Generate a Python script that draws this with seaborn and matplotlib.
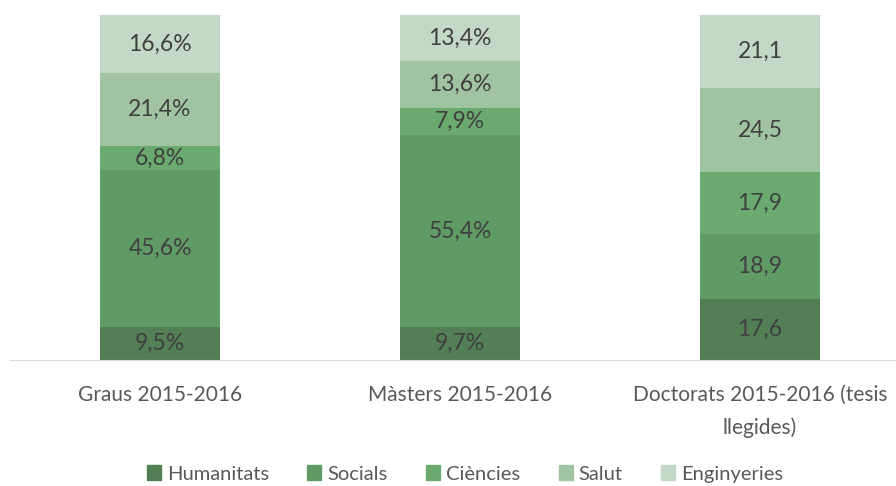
import numpy as np
import matplotlib.pyplot as plt
import seaborn as sns
from matplotlib.patches import Patch

# Dades
categories = ['Graus 2015-2016', 'Màsters 2015-2016', 'Doctorats 2015-2016 (tesis\nllegides)']
series = ['Humanitats', 'Socials', 'Ciències', 'Salut', 'Enginyeries']
humanitats = [9.5, 9.7, 17.6]
socials = [45.6, 55.4, 18.9]
ciencies = [6.8, 7.9, 17.9]
salut = [21.4, 13.6, 24.5]
enginyeries = [16.6, 13.4, 21.1]
label_fmt = ['{:.1f}%', '{:.1f}%', '{:.1f}']

colors = ['#537f55', '#609a65', '#6aaa6e', '#a0c4a2', '#c3d9c5']

sns.set_style('white')
plt.rcParams['font.family'] = ['Lato', 'DejaVu Sans']

values = np.array([humanitats, socials, ciencies, salut, enginyeries])
cum = values.cumsum(axis=0)

fig = plt.figure(figsize=(8.96, 4.86), dpi=100)
ax = fig.add_axes([10 / 896, 126 / 486, 900 / 896, 345 / 486])

# barres apilades: dibuixem les sumes acumulades de dalt a baix
for i in range(len(series) - 1, -1, -1):
    sns.barplot(x=categories, y=cum[i], color=colors[i], width=0.4,
                ax=ax, saturation=1, linewidth=0)

for j in range(len(categories)):
    for i in range(len(series)):
        mid = cum[i, j] - values[i, j] / 2
        txt = label_fmt[j].format(values[i, j]).replace('.', ',')
        ax.text(j, mid, txt, ha='center', va='center', fontsize=16.5, color='#404040')

ax.set_ylim(0, 100)
ax.set_xlim(-0.5, 2.5)
ax.set_yticks([])
for s in ['top', 'right', 'left']:
    ax.spines[s].set_visible(False)
ax.spines['bottom'].set_color('#d9d9d9')
ax.tick_params(axis='x', length=0, labelsize=15, labelcolor='#595959', pad=18)
for t in ax.get_xticklabels():
    t.set_linespacing(1.75)

handles = [Patch(color=c, label=s) for c, s in zip(colors, series)]
fig.legend(handles=handles, loc='center', bbox_to_anchor=(465 / 896, 12 / 486), ncol=5,
           frameon=False, fontsize=14.5, labelcolor='#595959', handlelength=0.7,
           handleheight=0.7, handletextpad=0.3, columnspacing=1.9)

fig.savefig('out.png', dpi=100)
